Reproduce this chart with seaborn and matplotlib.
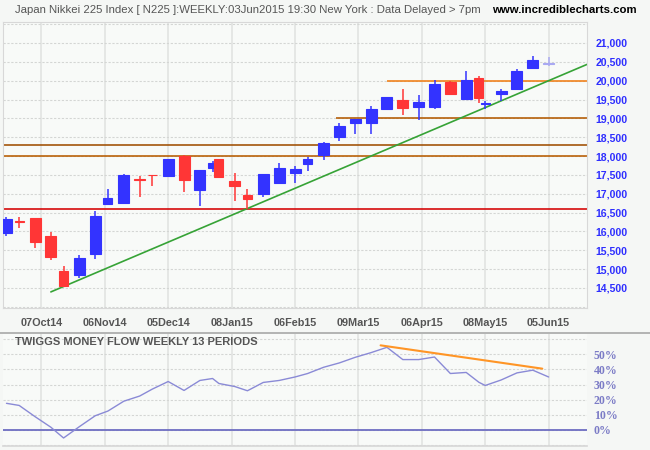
import numpy as np
import pandas as pd
import matplotlib
matplotlib.use("Agg")
import matplotlib.pyplot as plt
import seaborn as sns

# ---------------- data ----------------
dates = ["2014-09-19", "2014-09-26", "2014-10-03", "2014-10-10", "2014-10-17", "2014-10-24",
         "2014-10-31", "2014-11-07", "2014-11-14", "2014-11-21", "2014-11-28", "2014-12-05",
         "2014-12-12", "2014-12-19", "2014-12-26", "2014-12-30", "2015-01-09", "2015-01-16",
         "2015-01-23", "2015-01-30", "2015-02-06", "2015-02-13", "2015-02-20", "2015-02-27",
         "2015-03-06", "2015-03-13", "2015-03-20", "2015-03-27", "2015-04-03", "2015-04-10",
         "2015-04-17", "2015-04-24", "2015-05-01", "2015-05-08", "2015-05-15", "2015-05-22",
         "2015-05-29", "2015-06-05"]
opens = [15967, 16265, 16357, 15880, 14951, 14853, 15410, 16737, 16763, 17392, 17505, 17479,
         18002, 17108, 17692, 17923, 17339, 16967, 17002, 17294, 17559, 17798, 18037, 18514,
         18886, 18886, 19257, 19488, 19310, 19310, 19973, 19522, 20071, 19380, 19655, 19788,
         20345, 20455]
highs = [16384, 16376, 16360, 15986, 15084, 15376, 16543, 17127, 17525, 17472, 17510, 17923,
         18029, 17631, 17869, 17930, 17551, 17127, 17525, 17816, 17737, 17976, 18382, 18878,
         18990, 19329, 19567, 19780, 19620, 20018, 20000, 20257, 20124, 19469, 19788, 20310,
         20655, 20620]
lows = [15888, 16100, 15569, 15251, 14530, 14774, 15277, 16720, 16737, 16922, 17214, 17479,
        17047, 16684, 17586, 17450, 16816, 16604, 16922, 17294, 17294, 17600, 17904, 18408,
        18594, 18594, 19231, 19098, 18957, 19257, 19655, 19488, 19416, 19257, 19469, 19761,
        20318, 20390]
closes = [16331, 16250, 15728, 15331, 14561, 15296, 16410, 16888, 17498, 17376, 17490, 17923,
          17373, 17631, 17816, 17453, 17214, 16869, 17525, 17684, 17657, 17923, 18347, 18798,
          18984, 19249, 19567, 19284, 19435, 19912, 19655, 20018, 19549, 19395, 19735, 20257,
          20549, 20465]
tmf = [17.6, 16.2, 8.8, 1.8, -5.3, 2.2, 9.4, 12.5, 19.0, 22.4, 27.0, 32.0,
       26.1, 32.7, 34.0, 30.7, 28.7, 25.9, 31.4, 32.7, 35.0, 37.3, 41.4, 44.3,
       48.0, 51.1, 54.6, 46.5, 46.5, 48.2, 37.3, 38.0, 31.5, 29.4, 33.0, 37.7,
       39.5, 35.0]
# Tokyo exchange closed days in the period
holidays = ["2014-09-23", "2014-10-13", "2014-11-03", "2014-11-24", "2014-12-23",
            "2014-12-31", "2015-01-01", "2015-01-02", "2015-01-12", "2015-02-11",
            "2015-04-29", "2015-05-04", "2015-05-05", "2015-05-06"]
label_dates = ["2014-10-07", "2014-11-06", "2014-12-05", "2015-01-08", "2015-02-06",
               "2015-03-09", "2015-04-06", "2015-05-08", "2015-06-05"]
label_texts = ["07Oct14", "06Nov14", "05Dec14", "08Jan15", "06Feb15",
               "09Mar15", "06Apr15", "08May15", "05Jun15"]
price_ticks = [14500, 15000, 15500, 16000, 16500, 17000, 17500, 18000, 18500,
               19000, 19500, 20000, 20500, 21000]
tmf_ticks = [0, 10, 20, 30, 40, 50]
full_levels = [16600, 18300, 18000]
partial_levels = [19000, 20000]
partial_starts = ["2015-02-26", "2015-03-20"]
trend_dates = ["2014-10-10", "2015-06-05"]
trend_values = [14396, 20000]
tmf_trend_dates = ["2015-03-18", "2015-06-03"]
tmf_trend_values = [55.9, 40.5]

# ---------------- helpers ----------------
start = np.datetime64(dates[0])
hol = np.array(holidays, dtype="datetime64[D]")


def tidx(d):
    return int(np.busday_count(start, np.datetime64(d), holidays=hol))


xs = np.array([tidx(d) for d in dates], dtype=float)
df = pd.DataFrame({"x": xs, "open": opens, "high": highs, "low": lows,
                   "close": closes, "tmf": tmf})

sns.set_theme(style="white")
plt.rcParams["font.family"] = ["Liberation Sans", "DejaVu Sans"]

W, H = 650, 450
fig = plt.figure(figsize=(6.5, 4.5), dpi=100)
fig.patch.set_facecolor("#f5f7f5")

BG = "#f8faf8"
XL, XR = -1.1, 183.1
L_PX, R_PX = 3, 587

# main panel
ax = fig.add_axes([L_PX / W, (H - 308) / H, (R_PX - L_PX) / W, (308 - 22) / H])
ax.set_facecolor(BG)
ax.set_xlim(XL, XR)
ax.set_ylim(13969, 21557)

lx = [tidx(d) for d in label_dates]
for v in lx:
    ax.axvline(v, color="#e2e4e2", lw=1.2, zorder=0)
for v in range(14000, 21600, 500):
    ax.axhline(v, color="#d4d6d4", lw=0.8, ls=(0, (2, 1.5)), zorder=0)

# support / resistance lines
lvl_colors = {16600: "#d40000", 18300: "#a04e00", 18000: "#b85c00",
              19000: "#b35900", 20000: "#f07d14"}
for v in full_levels:
    ax.axhline(v, color=lvl_colors[v], lw=1.15, zorder=1)
for v, s in zip(partial_levels, partial_starts):
    ax.hlines(v, tidx(s), XR, color=lvl_colors[v], lw=1.15, zorder=1)

# trend line (extended to right edge)
tx0, tx1 = tidx(trend_dates[0]), tidx(trend_dates[1])
slope = (trend_values[1] - trend_values[0]) / (tx1 - tx0)
ax.plot([tx0, XR], [trend_values[0], trend_values[0] + slope * (XR - tx0)],
        color="#36a336", lw=1.2, zorder=2)

# candles
px_per_day = (R_PX - L_PX) / (XR - XL)
prev = None
n = len(df)
for i, r in df.iterrows():
    gap = 5 if prev is None else r.x - prev
    prev = r.x
    w = (11 if gap >= 5 else 9) / px_per_day
    up = r.close >= r.open
    col = "#3333ff" if up else "#ff3636"
    if i == n - 1:
        col = "#a9a9f2"
    ax.vlines(r.x, r.low, r.high, color=col, lw=1.1, zorder=3 + i * 0.01)
    lo = min(r.open, r.close)
    hgt = abs(r.close - r.open)
    ax.bar(r.x, hgt, bottom=lo, width=w, color=col, edgecolor=col,
           linewidth=0.8, zorder=3 + i * 0.01)

ax.yaxis.tick_right()
ax.set_yticks(price_ticks)
ax.set_yticklabels([f"{v:,}" for v in price_ticks], color="#2e2eff",
                   fontweight="bold", fontsize=7.6)
ax.tick_params(axis="y", length=0, pad=6)
ax.set_xticks(lx)
ax.set_xticklabels(label_texts, color="#555555", fontweight="bold", fontsize=7.8)
ax.tick_params(axis="x", length=0, pad=7)
for s in ax.spines.values():
    s.set_color("#d8d8d8")
    s.set_linewidth(0.8)
ax.set_xlabel("")
ax.set_ylabel("")

# lower panel
ax2 = fig.add_axes([L_PX / W, (H - 446) / H, (R_PX - L_PX) / W, (446 - 334) / H])
ax2.set_facecolor(BG)
ax2.set_xlim(XL, XR)
ax2.set_ylim(-10.6, 63.4)
for v in lx:
    ax2.axvline(v, color="#e2e4e2", lw=1.2, zorder=0)
for v in range(-10, 61, 10):
    ax2.axhline(v, color="#d4d6d4", lw=0.8, ls=(0, (2, 1.5)), zorder=0)
ax2.axhline(0, color="#6e6ec2", lw=1.3, zorder=1)
sns.lineplot(data=df, x="x", y="tmf", ax=ax2, color="#8a8ad6", lw=1.0, zorder=3)
ax2.plot([tidx(d) for d in tmf_trend_dates], tmf_trend_values,
         color="#ff9526", lw=1.5, zorder=4)
ax2.yaxis.tick_right()
ax2.set_yticks(tmf_ticks)
ax2.set_yticklabels([f"{v}%" for v in tmf_ticks], color="#7b7bc6",
                    fontweight="bold", fontsize=8.5, family="Liberation Serif")
ax2.tick_params(axis="y", length=0, pad=5)
ax2.set_xticks([])
ax2.set_xlabel("")
ax2.set_ylabel("")
for s in ax2.spines.values():
    s.set_visible(False)
ax2.spines["bottom"].set_visible(True)
ax2.spines["bottom"].set_color("#d8d8d8")

# divider line
fig.add_artist(plt.Line2D([0, 1], [(H - 333) / H] * 2, color="#a8a8a8", lw=1.2))

# texts
fig.text(15 / W, 1 - 10 / H,
         "Japan Nikkei 225 Index [ N225 ]:WEEKLY:03Jun2015 19:30 New York : Data Delayed > 7pm",
         color="#555555", fontsize=8.2, va="center", ha="left")
fig.text(637 / W, 1 - 10 / H, "www.incrediblecharts.com", color="#000000",
         fontsize=8.2, fontweight="bold", va="center", ha="right")
fig.text(15 / W, 1 - 342 / H, "TWIGGS MONEY FLOW WEEKLY 13 PERIODS",
         color="#555555", fontsize=8.0, fontweight="bold", va="center", ha="left")

fig.savefig("out.png", dpi=100, facecolor=fig.get_facecolor())
